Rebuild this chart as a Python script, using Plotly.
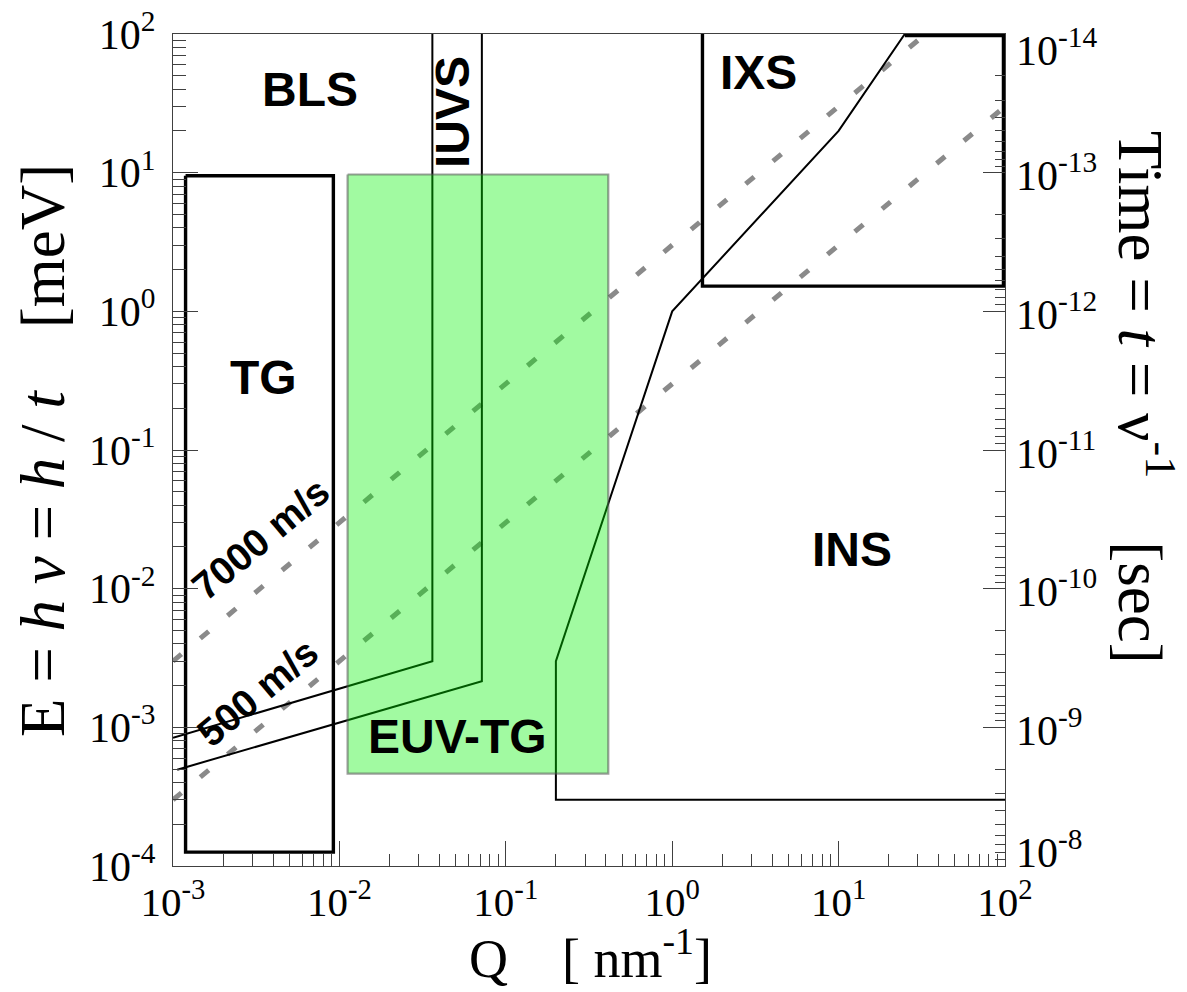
import math
import plotly.graph_objects as go

# ---------------- data ----------------
Q_ticks = [1e-3, 1e-2, 1e-1, 1e0, 1e1, 1e2]
Q_tick_text = ["10<sup>-3</sup>", "10<sup>-2</sup>", "10<sup>-1</sup>", "10<sup>0</sup>", "10<sup>1</sup>", "10<sup>2</sup>"]
E_ticks = [1e-4, 1e-3, 1e-2, 1e-1, 1e0, 1e1, 1e2]
E_tick_text = ["10<sup>-4</sup>", "10<sup>-3</sup>", "10<sup>-2</sup>", "10<sup>-1</sup>", "10<sup>0</sup>", "10<sup>1</sup>", "10<sup>2</sup>"]
t_ticks = [1e-14, 1e-13, 1e-12, 1e-11, 1e-10, 1e-9, 1e-8]
t_tick_text = ["10<sup>-14</sup>", "10<sup>-13</sup>", "10<sup>-12</sup>", "10<sup>-11</sup>", "10<sup>-10</sup>", "10<sup>-9</sup>", "10<sup>-8</sup>"]

# sound-velocity lines (dotted)
v7000_Q = [1e-3, 33.3]
v7000_E = [3e-3, 100]
v500_Q = [1e-3, 100]
v500_E = [3e-4, 30]

# IUVS boundaries
iuvs1_Q = [0.0362, 0.0362, 1.0e-3]
iuvs1_E = [100, 3.0e-3, 8.4e-4]
iuvs2_Q = [0.0718, 0.0718, 1.06e-3]
iuvs2_E = [100, 2.15e-3, 4.95e-4]

# INS boundary
ins_Q = [100, 0.2, 0.2, 1.0, 10, 25]
ins_E = [3e-4, 3e-4, 3e-3, 1.0, 20, 100]

# TG box
tg_Q = [1.19e-3, 9.2e-3, 9.2e-3, 1.19e-3, 1.19e-3]
tg_E = [9.5, 9.5, 1.26e-4, 1.26e-4, 9.5]

# IXS box
ixs_Q = [25, 100, 100, 1.52, 1.52]
ixs_E = [100, 100, 1.52, 1.52, 100]

# EUV-TG region
euv_Q = [0.0112, 0.413, 0.413, 0.0112, 0.0112]
euv_E = [9.7, 9.7, 4.64e-4, 4.64e-4, 9.7]

# ---------------- figure ----------------
W, H = 1187, 992
ML, MR, MT, MB = 173, 182, 34, 126
PW, PH = W - ML - MR, H - MT - MB

def px(x):
    return (x - ML) / PW

def py(y):
    return (H - MB - y) / PH

fig = go.Figure()
dot = dict(color="#8a8a8a", width=5, dash="11px,24.5px")
fig.add_trace(go.Scatter(x=v7000_Q, y=v7000_E, mode="lines", line=dot, hoverinfo="skip"))
fig.add_trace(go.Scatter(x=v500_Q, y=v500_E, mode="lines", line=dot, hoverinfo="skip"))
thin = dict(color="black", width=2)
fig.add_trace(go.Scatter(x=iuvs1_Q, y=iuvs1_E, mode="lines", line=thin, hoverinfo="skip"))
fig.add_trace(go.Scatter(x=iuvs2_Q, y=iuvs2_E, mode="lines", line=thin, hoverinfo="skip"))
fig.add_trace(go.Scatter(x=ins_Q, y=ins_E, mode="lines", line=thin, hoverinfo="skip"))
thick = dict(color="black", width=3.4)
fig.add_trace(go.Scatter(x=tg_Q, y=tg_E, mode="lines", line=thick, hoverinfo="skip"))
fig.add_trace(go.Scatter(x=ixs_Q, y=ixs_E, mode="lines", line=thick, hoverinfo="skip"))
# outer edges of IXS lie on the frame: draw wider since half gets clipped
fig.add_trace(go.Scatter(x=ixs_Q[:3], y=ixs_E[:3], mode="lines", line=dict(color="black", width=6.5), hoverinfo="skip"))
fig.add_trace(go.Scatter(x=euv_Q, y=euv_E, mode="lines", fill="toself",
                         fillcolor="rgba(0,242,0,0.37)",
                         line=dict(color="rgba(80,80,80,0.55)", width=2.2), hoverinfo="skip"))
# carrier for the time axis
fig.add_trace(go.Scatter(x=[1e-3], y=[1e-8], yaxis="y2", mode="markers",
                         marker=dict(opacity=0), hoverinfo="skip"))

axcol = "#404040"
tickfont = dict(family="Liberation Serif", size=42, color="black")
Q_minor = [k * 10 ** p for p in range(-3, 2) for k in range(2, 10)]
E_minor = [k * 10 ** p for p in range(-4, 2) for k in range(2, 10)]
t_minor = [k * 10 ** p for p in range(-14, -8) for k in range(2, 10)]

fig.update_layout(
    width=W, height=H,
    margin=dict(l=ML, r=MR, t=MT, b=MB, pad=0, autoexpand=False),
    paper_bgcolor="white", plot_bgcolor="white",
    showlegend=False,
    xaxis=dict(type="log", range=[-3, 2], showline=True, linecolor=axcol, linewidth=1.4,
               mirror=True, showgrid=False, zeroline=False, automargin=False,
               ticks="inside", ticklen=25, tickwidth=1.4, tickcolor=axcol,
               tickmode="array", tickvals=Q_ticks, ticktext=Q_tick_text,
               tickfont=dict(family="Liberation Serif", size=41, color="black"),
               ticklabelstandoff=0,
               minor=dict(ticks="inside", ticklen=12, tickwidth=1.4, tickcolor=axcol,
                          tickmode="array", tickvals=Q_minor, showgrid=False)),
    yaxis=dict(type="log", range=[-4, 2], showline=True, linecolor=axcol, linewidth=1.4,
               mirror=False, showgrid=False, zeroline=False, automargin=False,
               ticks="inside", ticklen=25, tickwidth=1.4, tickcolor=axcol,
               tickmode="array", tickvals=E_ticks, ticktext=E_tick_text, tickfont=tickfont,
               ticklabelstandoff=8,
               minor=dict(ticks="inside", ticklen=13, tickwidth=1.4, tickcolor=axcol,
                          tickmode="array", tickvals=E_minor, showgrid=False)),
    yaxis2=dict(type="log", range=[-8, -14], overlaying="y", side="right", anchor="x",
                showline=True, linecolor=axcol, linewidth=1.4, showgrid=False, zeroline=False,
                automargin=False, showticklabels=False,
                ticks="inside", ticklen=22, tickwidth=1.4, tickcolor=axcol,
                tickmode="array", tickvals=t_ticks,
                minor=dict(ticks="inside", ticklen=10, tickwidth=1.4, tickcolor=axcol,
                           tickmode="array", tickvals=t_minor, showgrid=False)),
)

# right-axis tick labels (placed at their tick, the two end labels held inside the frame)
for tv, tt in zip(t_ticks, t_tick_text):
    yp = (math.log10(tv) - (-8)) / (-14 - (-8))
    if tv == t_ticks[0]:
        yp -= 13 / PH
    elif tv == t_ticks[-1]:
        yp += 17 / PH
    fig.add_annotation(text=tt, x=1.0, y=yp, xref="paper", yref="paper", showarrow=False,
                       xanchor="left", yanchor="middle", xshift=9,
                       font=dict(family="Liberation Serif", size=42, color="black"))

def label(text, x, y, size=48, angle=0):
    fig.add_annotation(text="<b>" + text + "</b>", x=px(x), y=py(y), xref="paper", yref="paper",
                       showarrow=False, textangle=angle, xanchor="center", yanchor="middle",
                       font=dict(family="Liberation Sans", size=size, color="black"))

label("BLS", 310, 89.5)
label("TG", 263.5, 377.7)
label("IXS", 758, 72.5)
label("INS", 851.7, 549)
label("EUV-TG", 457.5, 736.7)
label("IUVS", 452.5, 112.5, angle=-90)
label("7000 m/s", 260.8, 538.3, size=39, angle=-40)
label("500 m/s", 257.5, 692.5, size=39, angle=-40)

serif = "Liberation Serif"
nb = "\u00a0"
fig.add_annotation(text="E" + nb + "=" + nb + "<i>h</i>" + nb + "<i>ν</i>" + nb + "=" + nb + "<i>h</i>" + nb + "/" + nb + "<i>t</i>" + nb * 4 + "[meV]",
                   x=px(43), y=py(451), xref="paper", yref="paper", showarrow=False,
                   textangle=-90, xanchor="center", yanchor="middle",
                   font=dict(family=serif, size=63, color="black"))
fig.add_annotation(text="Time" + nb + "=" + nb + "<i>t</i>" + nb + "=" + nb + "ν<sup>-1</sup>" + nb * 4 + "[sec]",
                   x=px(1145), y=py(396.7), xref="paper", yref="paper", showarrow=False,
                   textangle=90, xanchor="center", yanchor="middle",
                   font=dict(family=serif, size=63, color="black"))
fig.add_annotation(text="Q" + nb * 4 + "[" + nb + "nm<sup>-1</sup>]",
                   x=px(590), y=py(955), xref="paper", yref="paper", showarrow=False,
                   xanchor="center", yanchor="middle",
                   font=dict(family=serif, size=54, color="black"))

fig.write_html("out.html", config={"displayModeBar": False},
               post_script="document.body.style.margin='0';")
